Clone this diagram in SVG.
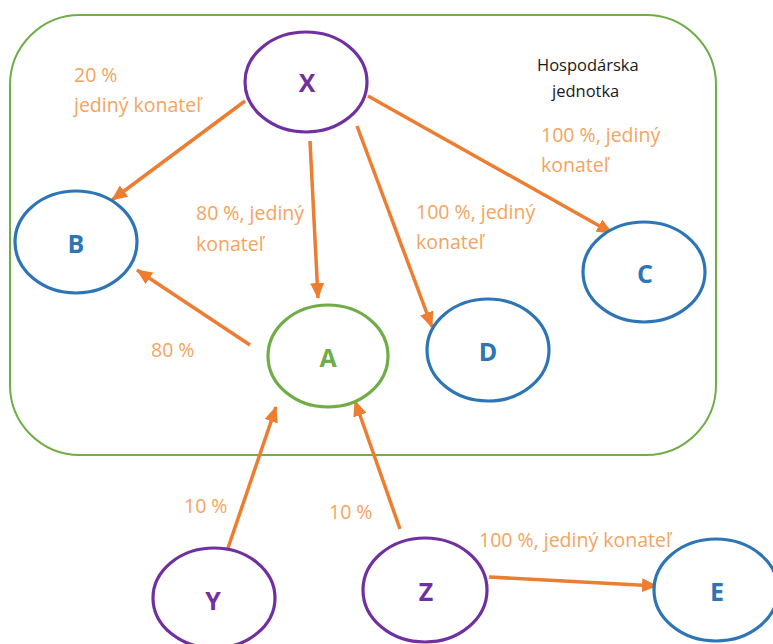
<svg xmlns="http://www.w3.org/2000/svg" width="773" height="644" viewBox="0 0 773 644">
<defs>
<marker id="ah" markerUnits="userSpaceOnUse" markerWidth="16" markerHeight="14" refX="15" refY="7" orient="auto">
<path d="M0,0 L16,7 L0,14 Z" fill="#ED7D31"/>
</marker>
</defs>
<style>
.node{fill:#fff;stroke-width:3.2}
.purple{stroke:#7030A0}
.blue{stroke:#2E75B6}
.green{stroke:#70AD47}
.lbl{font-family:"Open Sans",Lato,"Liberation Sans",sans-serif;font-weight:bold;font-size:25px;text-anchor:middle}
.e{stroke:#ED7D31;stroke-width:3.5;fill:none;marker-end:url(#ah)}
.t{font-family:"Open Sans",Lato,"Liberation Sans",sans-serif;font-size:19.5px;fill:#F4A460}
.h{font-family:"Open Sans",Lato,"Liberation Sans",sans-serif;font-size:16.5px;fill:#1a1a1a}
</style>
<rect x="10" y="15" width="706" height="440" rx="70" ry="70" fill="#fff" stroke="#70AD47" stroke-width="2"/>
<text class="h" x="537" y="71">Hospodárska</text>
<text class="h" x="552" y="97">jednotka</text>
<g id="connectors">
<line class="e" x1="245" y1="101" x2="112" y2="200"/>
<line class="e" x1="310" y1="141" x2="318" y2="298"/>
<line class="e" x1="357" y1="126" x2="432" y2="327"/>
<line class="e" x1="368" y1="96" x2="612" y2="233"/>
<line class="e" x1="250" y1="345" x2="137" y2="270"/>
<line class="e" x1="228" y1="548" x2="276" y2="407"/>
<line class="e" x1="400" y1="529" x2="355" y2="401"/>
<line class="e" x1="489" y1="577" x2="657" y2="586"/>
</g>
<g id="labels">
<text class="t" x="74" y="82">20 %</text>
<text class="t" x="74" y="112">jediný konateľ</text>
<text class="t" x="196" y="220">80 %, jediný</text>
<text class="t" x="196" y="251">konateľ</text>
<text class="t" x="541" y="142">100 %, jediný</text>
<text class="t" x="541" y="172">konateľ</text>
<text class="t" x="416" y="219">100 %, jediný</text>
<text class="t" x="416" y="249">konateľ</text>
<text class="t" x="151" y="357">80 %</text>
<text class="t" x="184" y="513">10 %</text>
<text class="t" x="329" y="519">10 %</text>
<text class="t" x="479" y="547">100 %, jediný konateľ</text>
</g>
<g id="X"><ellipse class="node purple" cx="306" cy="82" rx="61" ry="50"/><text class="lbl" x="307" y="92" fill="#7030A0">X</text></g>
<g id="B"><ellipse class="node blue" cx="76" cy="242" rx="61" ry="51"/><text class="lbl" x="76" y="253" fill="#2E75B6">B</text></g>
<g id="C"><ellipse class="node blue" cx="644" cy="272" rx="61" ry="50"/><text class="lbl" x="645" y="283" fill="#2E75B6">C</text></g>
<g id="D"><ellipse class="node blue" cx="488" cy="350" rx="61" ry="51"/><text class="lbl" x="488" y="361" fill="#2E75B6">D</text></g>
<g id="A"><ellipse class="node green" cx="328" cy="356" rx="60" ry="51"/><text class="lbl" x="328" y="367" fill="#70AD47">A</text></g>
<g id="Y"><ellipse class="node purple" cx="214" cy="598" rx="61" ry="50"/><text class="lbl" x="213" y="610" fill="#7030A0">Y</text></g>
<g id="Z"><ellipse class="node purple" cx="425" cy="590" rx="62" ry="52"/><text class="lbl" x="426" y="601" fill="#7030A0">Z</text></g>
<g id="E"><ellipse class="node blue" cx="716" cy="590" rx="62" ry="51"/><text class="lbl" x="717" y="601" fill="#2E75B6">E</text></g>
</svg>
